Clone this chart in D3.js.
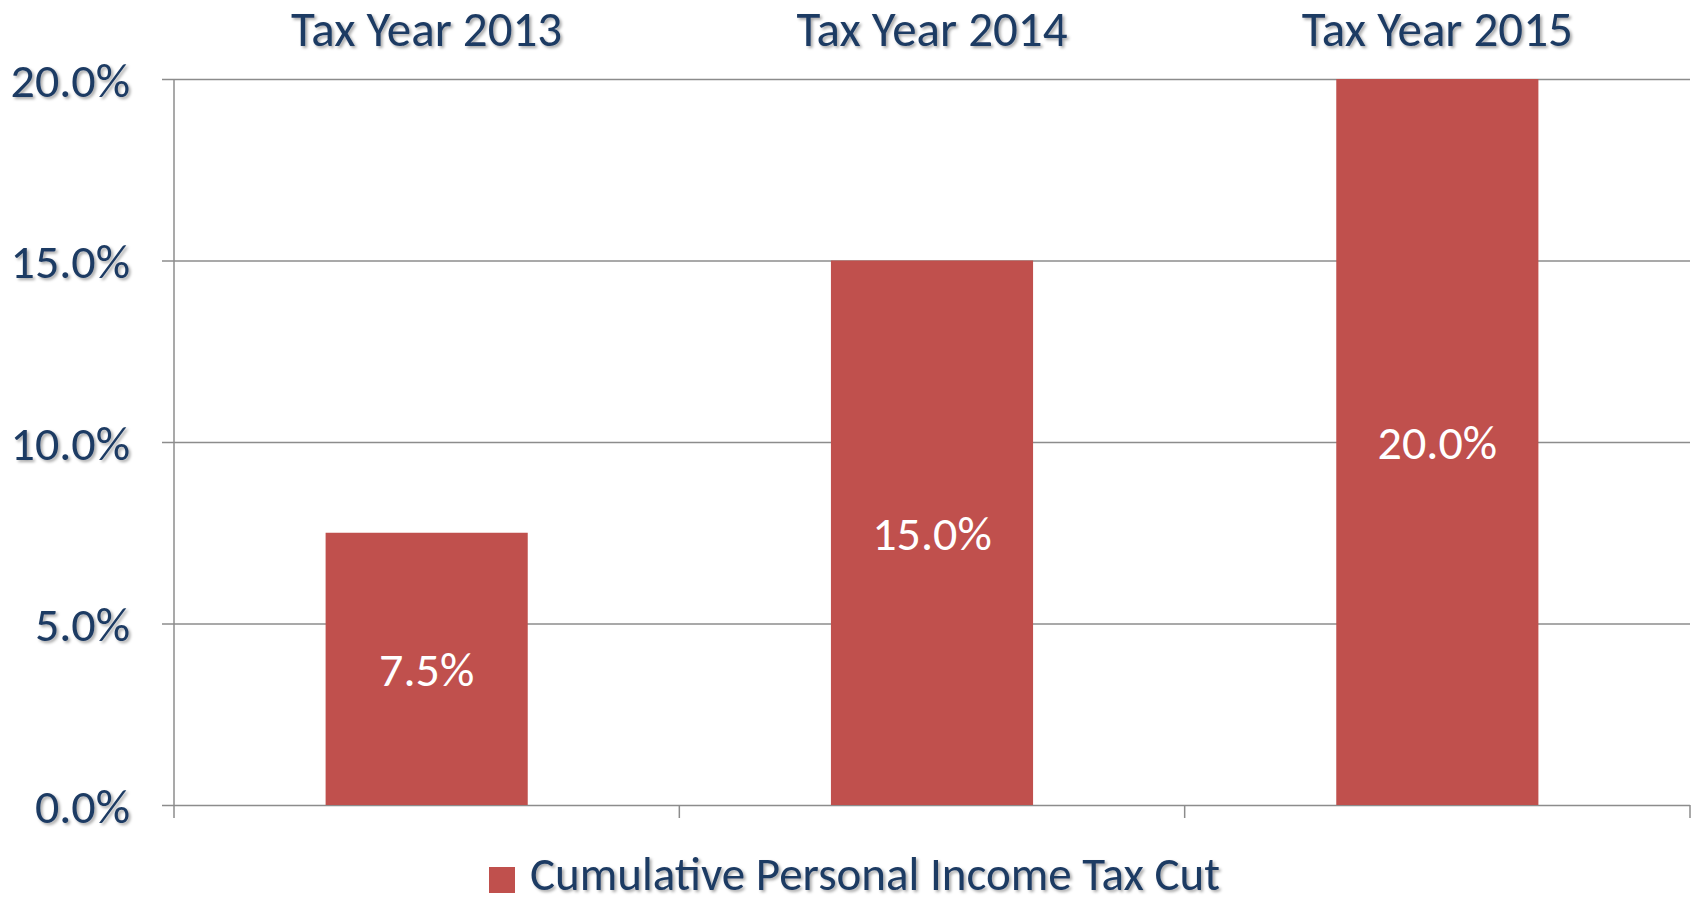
<!DOCTYPE html>
<html><head><meta charset="utf-8">
<script src="https://cdn.jsdelivr.net/npm/d3@7"></script>
<style>body{margin:0;background:#fff;} svg{display:block;}</style>
</head><body>
<svg id="chart" width="1696" height="902"></svg>
<script>
const categories = ["Tax Year 2013", "Tax Year 2014", "Tax Year 2015"];
const values = [7.5, 15.0, 20.0];
const yTicks = [0, 5, 10, 15, 20];
const seriesName = "Cumulative Personal Income Tax Cut";

const W = 1696, H = 902;
const m = {left: 174, right: 6, top: 79, bottom: 97};
const svg = d3.select("#chart");
const font = "Carlito, Lato, sans-serif";
const navy = "#1F3B63";
const barColor = "#C0504D";
const gridColor = "#8C8C8C";

const defs = svg.append("defs");
const f = defs.append("filter").attr("id","sh").attr("x","-10%").attr("y","-20%").attr("width","130%").attr("height","150%");
f.append("feDropShadow").attr("dx",2).attr("dy",2).attr("stdDeviation",1.6).attr("flood-color","#000").attr("flood-opacity",0.35);

const x = d3.scaleBand().domain(categories).range([m.left, W - m.right]).paddingInner(0.6).paddingOuter(0.3);
const y = d3.scaleLinear().domain([0, 20]).range([H - m.bottom, m.top]);

// gridlines + y axis
const yAxis = d3.axisLeft(y).tickValues(yTicks).tickSize(-(W - m.left - m.right)).tickFormat(d => d3.format(".1f")(d) + "%");
const gy = svg.append("g").attr("transform", `translate(${m.left},0)`).call(yAxis);
gy.select(".domain").remove();
gy.selectAll(".tick line").attr("stroke", gridColor).attr("stroke-width", 1.5).attr("x1", -12);
gy.selectAll(".tick text").attr("x", -44).attr("dy", "0.36em")
  .attr("font-family", font).attr("font-size", 48).attr("fill", navy).attr("filter", "url(#sh)");

// vertical axis line
svg.append("line").attr("x1", m.left).attr("x2", m.left).attr("y1", m.top).attr("y2", H - m.bottom + 13)
  .attr("stroke", gridColor).attr("stroke-width", 1.5);

// category separators (ticks below baseline)
const step = x.step();
const bounds = d3.range(categories.length + 1).map(i => m.left + i * step);
svg.selectAll(".ctick").data(bounds.slice(1)).join("line")
  .attr("x1", d => d).attr("x2", d => d).attr("y1", H - m.bottom).attr("y2", H - m.bottom + 13)
  .attr("stroke", gridColor).attr("stroke-width", 1.5);

// bars
svg.selectAll(".bar").data(values).join("rect")
  .attr("x", (d, i) => x(categories[i])).attr("width", x.bandwidth())
  .attr("y", d => y(d)).attr("height", d => y(0) - y(d)).attr("fill", barColor);

// bar labels
svg.selectAll(".blab").data(values).join("text")
  .attr("x", (d, i) => x(categories[i]) + x.bandwidth() / 2)
  .attr("y", d => (y(d) + y(0)) / 2).attr("dy", "0.36em")
  .attr("text-anchor", "middle").attr("font-family", font).attr("font-size", 48)
  .attr("fill", "#fff").text(d => d3.format(".1f")(d) + "%");

// category labels on top
svg.selectAll(".clab").data(categories).join("text")
  .attr("x", d => x(d) + x.bandwidth() / 2).attr("y", 46)
  .attr("text-anchor", "middle").attr("font-family", font).attr("font-size", 49)
  .attr("fill", navy).attr("filter", "url(#sh)").text(d => d);

// legend
const lg = svg.append("g");
lg.append("rect").attr("x", 489).attr("y", 867).attr("width", 26).attr("height", 26).attr("fill", barColor);
lg.append("text").attr("x", 530).attr("y", 890).attr("font-family", font).attr("font-size", 47)
  .attr("fill", navy).attr("filter", "url(#sh)").text(seriesName);
</script>
</body></html>
